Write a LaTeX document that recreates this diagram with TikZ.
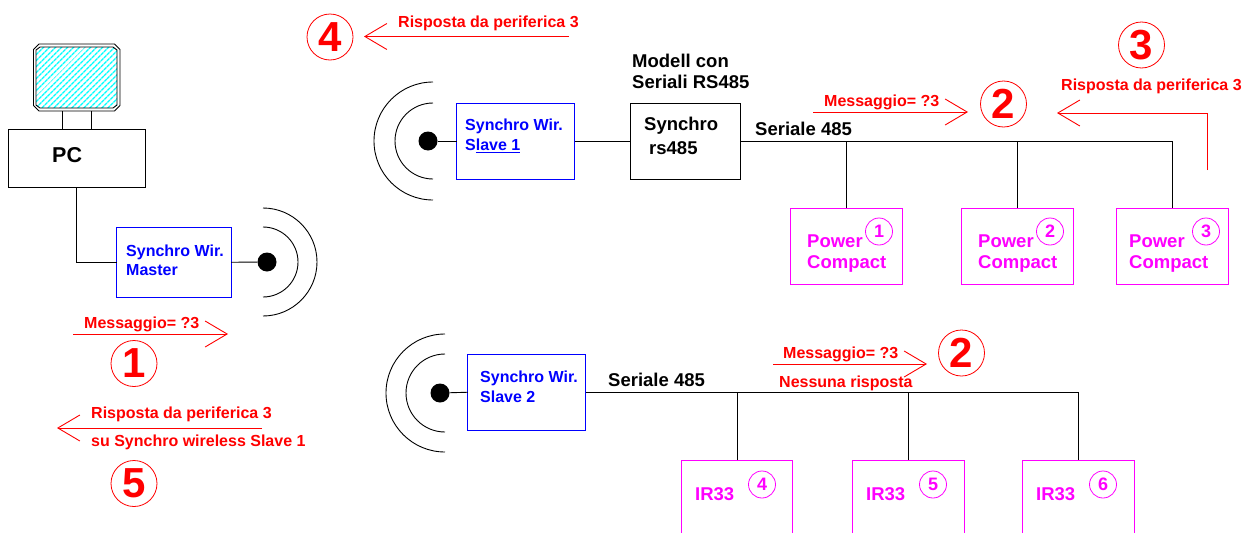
\documentclass[tikz,border=0pt]{standalone}
\usepackage{fontspec}
\setmainfont{Liberation Sans}
\usetikzlibrary{arrows.meta, patterns.meta}
\definecolor{rd}{RGB}{255,0,0}
\definecolor{bl}{RGB}{0,0,255}
\definecolor{mg}{RGB}{255,0,255}
\tikzset{
    normal/.style={draw, line width=0.9pt, inner sep=0pt, outer sep=0pt},
    kbox/.style={style=normal, minimum width=110pt, minimum height=76pt},
    bbox/.style={style=normal, bl, minimum width=118pt, minimum height=76pt},
    pbox/.style={style=normal, mg, minimum width=111.5pt, minimum height=76pt},
    ibox/.style={style=normal, mg, minimum width=111.5pt, minimum height=100pt},
    t/.style={anchor=west, inner sep=0pt, align=left, font=\fontsize{18.5}{21}\selectfont\bfseries}, % black labels
    bt/.style={anchor=west, inner sep=0pt, align=left, text=bl, font=\fontsize{16}{19.5}\selectfont\bfseries},
    rt/.style={anchor=west, inner sep=0pt, text=rd, font=\fontsize{16}{18}\selectfont\bfseries},
    pt/.style={anchor=west, inner sep=0pt, align=left, text=mg, font=\fontsize{18.5}{21}\selectfont\bfseries},
    big/.style={draw=rd, line width=0.8pt, text=rd, circle, inner sep=0pt, minimum size=46pt, font=\fontsize{42}{42}\selectfont\bfseries},
    small/.style={draw=mg, line width=0.8pt, text=mg, circle, inner sep=0pt, minimum size=27pt, font=\fontsize{18}{18}\selectfont\bfseries},
    dot/.style={fill=black, circle, inner sep=0pt, minimum size=19pt},
    e/.style={line width=0.9pt},
    ar/.style={draw=rd, line width=0.9pt, -{Straight Barb[length=22pt, width=26pt, line width=0.9pt]}},
    wave/.style={line width=0.9pt}
}

\begin{document}
\begin{tikzpicture}[x=1pt, y=-1pt]
    \clip (0,0) rectangle (1243,533);

    % PC and master
    \draw[e] (33.5,49.5) -- (39,44) -- (114.5,44) -- (120,49.5) -- (120,105.5) -- (114.5,111) -- (39,111) -- (33.5,105.5) -- cycle;
    \draw[e, pattern={Lines[angle=45, distance=4pt, line width=1.6pt]}, pattern color=cyan]
        (36,50) -- (40,47) -- (113,47) -- (117,50) -- (117,105) -- (113,108) -- (40,108) -- (36,105) -- cycle;
    \coordinate (monl) at (62,111);
    \coordinate (monr) at (91,111);
    \node[normal, minimum width=136.5pt, minimum height=58pt] (pc) at (76.75,158) {};
    \node[t, font=\fontsize{21.5}{24}\selectfont\bfseries] (pclab) at (52,155) {PC};
    \node[normal, bl, minimum width=114.5pt, minimum height=69.5pt] (master) at (173.75,262.25) {};
    \node[bt] (masterlab) at (126,260.5) {Synchro Wir.\\Master};
    \node[dot] (dotm) at (267,262) {};

    \draw[e] (monl) -- (monl |- pc.north);
    \draw[e] (monr) -- (monr |- pc.north);
    \draw[e] (pc.south) |- (master.west);
    \draw[e] (master.east) -- (dotm);
    \draw[wave] (263,227) arc[start angle=-90, end angle=90, radius=35];
    \draw[wave] (263,208) arc[start angle=-90, end angle=90, radius=54];

    % step 1 and 5
    \coordinate (a1s) at (73,334);
    \coordinate (a1e) at (228,334);
    \draw[ar] (a1s) -- (a1e);
    \node[rt] (msg1) at (84,324) {Messaggio= ?3};
    \node[big] (c1) at (134,363.5) {1};
    \coordinate (a5s) at (262,428);
    \coordinate (a5e) at (57,428);
    \draw[ar] (a5s) -- (a5e);
    \node[rt] (risp5) at (91,414) {Risposta da periferica 3};
    \node[rt] (su5) at (91,442.5) {su Synchro wireless Slave 1};
    \node[big] (c5) at (134,483.5) {5};

    % upper line
    \node[big] (c4) at (330,37) {4};
    \coordinate (a4s) at (569,36.5);
    \coordinate (a4e) at (364,36.5);
    \draw[ar] (a4s) -- (a4e);
    \node[rt] (risp4) at (398,23) {Risposta da periferica 3};
    \node[t] (modell) at (632,71.5) {Modell con\\Seriali RS485};
    \node[bbox] (s1) at (515.5,141) {};
    \node[bt] (s1lab) at (465,136) {Synchro Wir.\\S\underline{lave 1}};
    \node[dot] (dot1) at (428,141) {};
    \node[kbox] (syn) at (685,141) {};
    \node[t] (synlab) at (644,126) {Synchro};
    \node[t] (rslab) at (649,148) {rs485};
    \node[t] (ser1) at (755,129) {Seriale 485};
    \node[pbox] (p1) at (846.25,246) {};
    \node[pbox] (p2) at (1017.25,246) {};
    \node[pbox] (p3) at (1172.25,246) {};
    \node[pt] (p1lab) at (807,254) {Power\\Compact};
    \node[pt] (p2lab) at (978,254) {Power\\Compact};
    \node[pt] (p3lab) at (1129,254) {Power\\Compact};
    \node[small] (n1) at (879,231.5) {1};
    \node[small] (n2) at (1050,231.5) {2};
    \node[small] (n3) at (1206,231.5) {3};

    \draw[e] (dot1) -- (s1.west);
    \draw[e] (s1.east) -- (syn.west);
    \draw[e] (syn.east) -| (p3.north);
    \draw[e] (p1.north) -- (p1.north |- syn.east);
    \draw[e] (p2.north) -- (p2.north |- syn.east);
    \draw[wave] (433,103) arc[start angle=-90, end angle=-270, radius=38];
    \draw[wave] (433,82) arc[start angle=-90, end angle=-270, radius=59];

    % steps 2 and 3
    \coordinate (a2s) at (813,112);
    \coordinate (a2e) at (968,112);
    \draw[ar] (a2s) -- (a2e);
    \node[rt] (msg2) at (824,102) {Messaggio= ?3};
    \node[big] (c2) at (1003.5,104) {2};
    \node[big] (c3) at (1141.5,45) {3};
    \node[rt] (risp3) at (1061,86) {Risposta da periferica 3};
    \coordinate (a3s) at (1207,170);
    \coordinate (a3e) at (1057,113);
    \draw[ar] (a3s) |- (a3e);

    % lower line
    \node[bbox] (s2) at (526.75,392.25) {};
    \node[bt] (s2lab) at (480,387) {Synchro Wir.\\Slave 2};
    \node[dot] (dot2) at (440,393) {};
    \node[t] (ser2) at (608,380) {Seriale 485};
    \node[ibox] (i4) at (737,510) {};
    \node[ibox] (i5) at (908.25,510) {};
    \node[ibox] (i6) at (1078.25,510) {};
    \node[pt] (i4lab) at (695,494) {IR33};
    \node[pt] (i5lab) at (866,494) {IR33};
    \node[pt] (i6lab) at (1036,494) {IR33};
    \node[small] (n4) at (762,484.5) {4};
    \node[small] (n5) at (933,484.5) {5};
    \node[small] (n6) at (1103,484.5) {6};

    \draw[e] (dot2) -- (s2.west);
    \draw[e] (s2.east) -| (i6.north);
    \draw[e] (i4.north) -- (i4.north |- s2.east);
    \draw[e] (i5.north) -- (i5.north |- s2.east);
    \draw[wave] (445,354) arc[start angle=-90, end angle=-270, radius=39];
    \draw[wave] (445,334) arc[start angle=-90, end angle=-270, radius=59];

    \coordinate (a6s) at (773,364);
    \coordinate (a6e) at (927,364);
    \draw[ar] (a6s) -- (a6e);
    \node[rt] (msg3) at (783,354) {Messaggio= ?3};
    \node[rt] (none) at (779,383) {Nessuna risposta};
    \node[big] (c6) at (961.5,353) {2};
\end{tikzpicture}
\end{document}
